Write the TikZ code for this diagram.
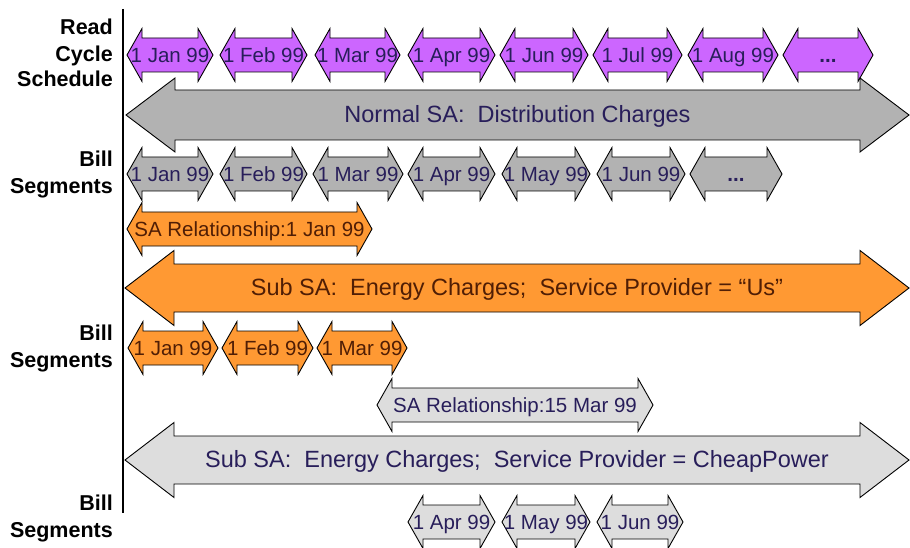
\documentclass[tikz,border=0pt]{standalone}
\usepackage{fontspec}
\setmainfont{Liberation Sans}
\definecolor{purp}{RGB}{204,102,255}
\definecolor{gry}{RGB}{178,178,178}
\definecolor{orng}{RGB}{255,153,51}
\definecolor{lgry}{RGB}{221,221,221}
\definecolor{txtblue}{RGB}{40,30,90}
\definecolor{txtbrown}{RGB}{80,30,5}
\newcommand{\darr}[9]{%
  \draw[arrowbox,#8] (#2,#4) -- ({#2+#7},{#4-#6}) -- ({#2+#7},{#4-#5}) -- ({#3-#7},{#4-#5}) -- ({#3-#7},{#4-#6}) -- (#3,#4) -- ({#3-#7},{#4+#6}) -- ({#3-#7},{#4+#5}) -- ({#2+#7},{#4+#5}) -- ({#2+#7},{#4+#6}) -- cycle;
  \node[arrowtext] (#1) at ({(#2+#3)/2},#4) {#9};}
\newcommand{\smallarr}[6]{% name, x1, x2, yc, fill, text
  \darr{#1}{#2}{#3}{#4}{17}{26.5}{15}{fill=#5}{\smalltxt #6}}
\newcommand{\smalltxt}{\fontsize{20.5}{24}\selectfont}
\newcommand{\bigtxt}{\fontsize{23.5}{27}\selectfont}
\tikzset{
  arrowbox/.style={draw=black, line width=0.9pt, line join=miter},
  arrowtext/.style={inner sep=0pt, text height=16pt, text depth=1.3pt},
  lbl/.style={anchor=base east, inner sep=0pt, font=\bfseries\fontsize{21.5}{25}\selectfont},
}
\begin{document}
\begin{tikzpicture}[x=1pt,y=-1pt]
\useasboundingbox (0,0) rectangle (910,548);
% vertical axis
\coordinate (axtop) at (123,9);
\coordinate (axbot) at (123,513);
\draw[line width=2pt] (axtop) -- (axbot);
% labels
\node[lbl] (l1) at (113,35) {Read};
\node[lbl] (l2) at (113,62) {Cycle};
\node[lbl] (l3) at (113,87) {Schedule};
\node[lbl] (b1a) at (113,167) {Bill};
\node[lbl] (b1b) at (113,194) {Segments};
\node[lbl] (b2a) at (113,340) {Bill};
\node[lbl] (b2b) at (113,367) {Segments};
\node[lbl] (b3a) at (113,510) {Bill};
\node[lbl] (b3b) at (113,537) {Segments};
% row 1: read cycle schedule
\begin{scope}[text=txtblue]
\smallarr{r1}{127}{213}{55}{purp}{1 Jan 99}
\smallarr{r2}{220}{307}{55}{purp}{1 Feb 99}
\smallarr{r3}{315}{400}{55}{purp}{1 Mar 99}
\smallarr{r4}{408}{495}{55}{purp}{1 Apr 99}
\smallarr{r5}{500}{588}{55}{purp}{1 Jun 99}
\smallarr{r6}{593}{682}{55}{purp}{1 Jul 99}
\smallarr{r7}{688}{778}{55}{purp}{1 Aug 99}
\smallarr{r8}{783}{873}{55}{purp}{\textbf{...}}
% row 2: normal SA
\darr{nsa}{126}{909}{115}{25}{37}{49}{fill=gry}{\bigtxt Normal SA:\ \ Distribution Charges}
% row 3: bill segments
\smallarr{g1}{127}{213}{174}{gry}{1 Jan 99}
\smallarr{g2}{220}{307}{174}{gry}{1 Feb 99}
\smallarr{g3}{313}{403}{174}{gry}{1 Mar 99}
\smallarr{g4}{408}{495}{174}{gry}{1 Apr 99}
\smallarr{g5}{502}{590}{174}{gry}{1 May 99}
\smallarr{g6}{597}{685}{174}{gry}{1 Jun 99}
\smallarr{g7}{690}{782}{174}{gry}{\textbf{...}}
\end{scope}
% orange rows
\begin{scope}[text=txtbrown]
\smallarr{rel1}{127}{372}{229}{orng}{SA Relationship:1 Jan 99}
\darr{sub1}{125}{909}{288}{24}{37.5}{49}{fill=orng}{\bigtxt Sub SA:\ \ Energy Charges;\ \ Service Provider = “Us”}
\smallarr{o1}{128}{218}{348}{orng}{1 Jan 99}
\smallarr{o2}{222}{313}{348}{orng}{1 Feb 99}
\smallarr{o3}{317}{407}{348}{orng}{1 Mar 99}
\end{scope}
% light gray rows
\begin{scope}[text=txtblue]
\smallarr{rel2}{377}{653}{405}{lgry}{SA Relationship:15 Mar 99}
\darr{sub2}{125}{909}{460}{24}{37.5}{49}{fill=lgry}{\bigtxt Sub SA:\ \ Energy Charges;\ \ Service Provider = CheapPower}
\smallarr{c1}{408}{495}{522}{lgry}{1 Apr 99}
\smallarr{c2}{502}{590}{522}{lgry}{1 May 99}
\smallarr{c3}{597}{683}{522}{lgry}{1 Jun 99}
\end{scope}
\end{tikzpicture}
\end{document}
